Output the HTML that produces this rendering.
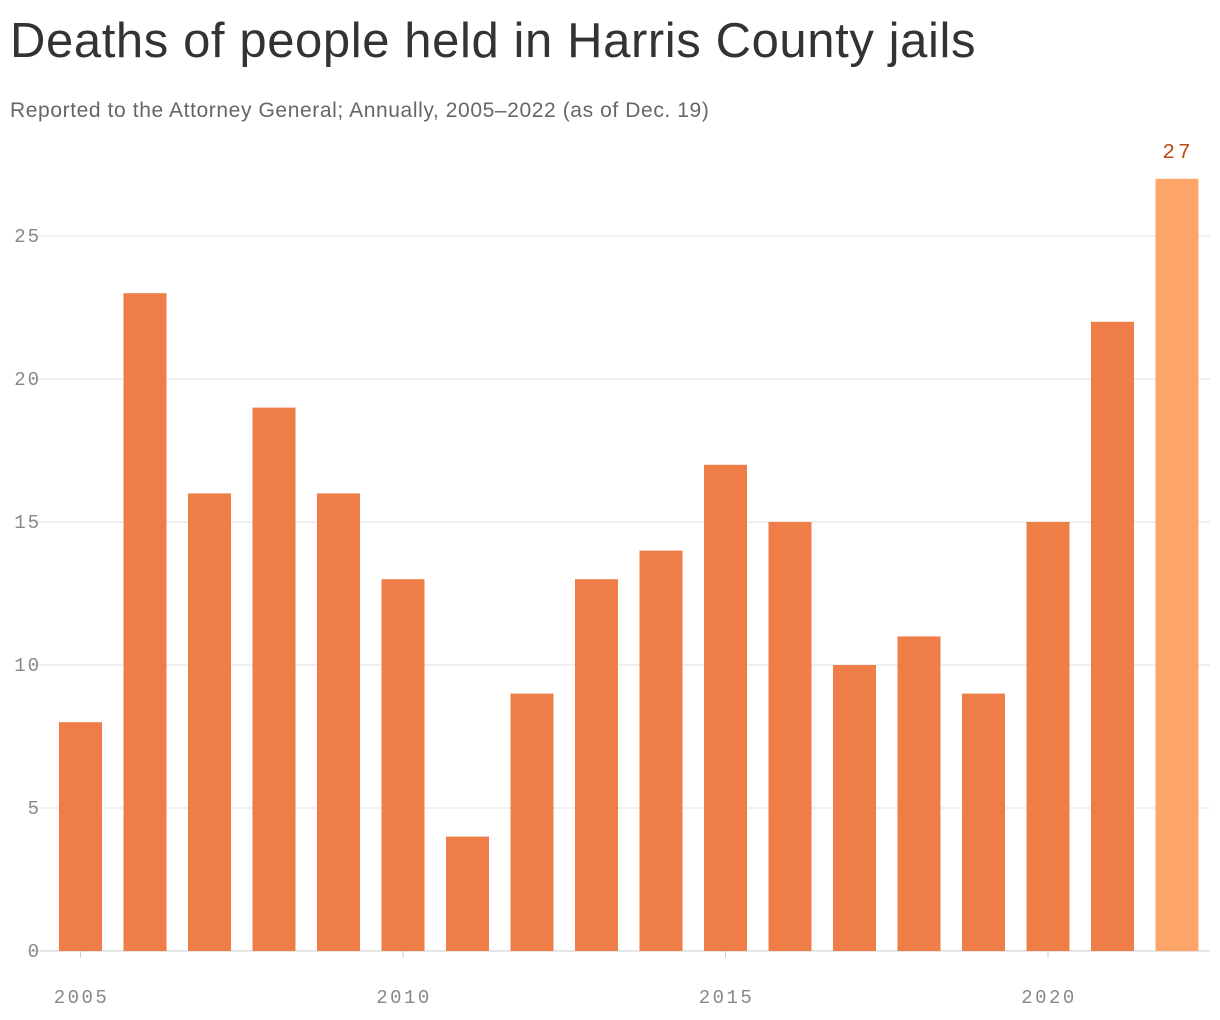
<!DOCTYPE html>
<html><head><meta charset="utf-8"><style>
body{margin:0;background:#fff;width:1220px;height:1020px;overflow:hidden;font-family:"Liberation Sans",sans-serif}
#title{position:absolute;left:10px;top:13px;font-size:49px;color:#333;letter-spacing:0.6px;margin:0;font-weight:normal;white-space:nowrap}
#sub{position:absolute;left:10px;top:99px;font-size:21px;color:#666;letter-spacing:0.6px;white-space:nowrap}
svg{position:absolute;left:0;top:0}
</style></head><body>
<h1 id="title">Deaths of people held in Harris County jails</h1>
<div id="sub">Reported to the Attorney General; Annually, 2005–2022 (as of Dec. 19)</div>
<svg id="chart" width="1220" height="1020"></svg>
<script>
const years=[2005,2006,2007,2008,2009,2010,2011,2012,2013,2014,2015,2016,2017,2018,2019,2020,2021,2022];
const deaths=[8,23,16,19,16,13,4,9,13,14,17,15,10,11,9,15,22,27];
const yTicks=[0,5,10,15,20,25];
const xTicks=[2005,2010,2015,2020];
const NS="http://www.w3.org/2000/svg";
const svg=document.getElementById('chart');
const y=v=>951-v*28.6;
const x=yr=>80.5+(yr-2005)*64.5;
function mk(t,a){const e=document.createElementNS(NS,t);for(const k in a)e.setAttribute(k,a[k]);svg.appendChild(e);return e;}
yTicks.forEach(v=>{
 const l=mk('line',{x1:30,x2:1210,y1:y(v),y2:y(v),stroke:v===0?'#ccc':'#e2e2e2','stroke-width':1});
 
 
 const t=mk('text',{x:41,y:y(v)+6,'text-anchor':'end','font-family':'Liberation Mono, monospace','font-size':19,'letter-spacing':2,fill:'#888'});
 t.textContent=v;
 
 
});
xTicks.forEach(yr=>{
 const l=mk('line',{x1:x(yr),x2:x(yr),y1:951,y2:958,stroke:'#ccc'});
 
 
 const t=mk('text',{x:x(yr)+1,y:1003,'text-anchor':'middle','font-family':'Liberation Mono, monospace','font-size':19,'letter-spacing':2.5,fill:'#888'});
 t.textContent=yr;
 
 
});
years.forEach((yr,i)=>{
 const last=i===years.length-1;
 const r=mk('rect',{x:x(yr)-21.5,width:43,y:y(deaths[i]),height:951-y(deaths[i]),fill:last?'#fea66a':'#ee7d48'});
 
 
 if(last){
  const t=mk('text',{x:x(yr)+1,y:y(deaths[i])-21,'text-anchor':'middle','font-family':'Liberation Mono, monospace','font-size':21,'letter-spacing':3,fill:'#b84a12'});
  t.textContent=deaths[i];
  
  
 }
});
</script>
</body></html>
